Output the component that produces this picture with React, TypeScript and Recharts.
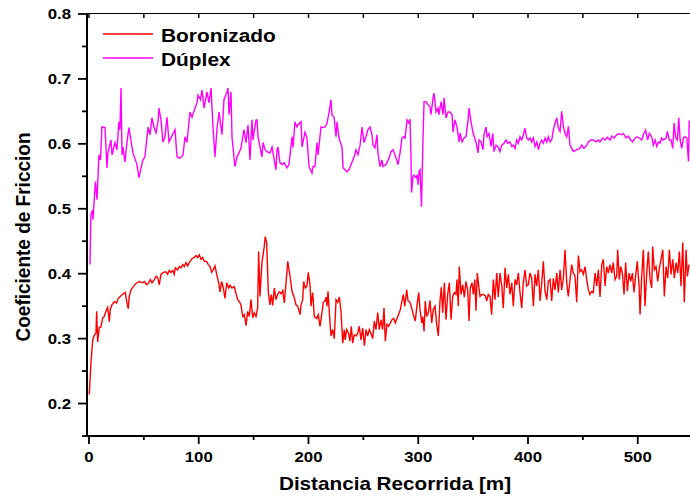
import React from "react";
import { LineChart, Line, XAxis, YAxis, Legend } from "recharts";

// Boronizado: distancia [m] y coeficiente de fricción
const boroDist = [
  0.3, 1.8, 3.4, 4.8, 6.4, 7.0, 7.9, 9.4, 10.9, 12.5, 13.9, 15.5, 17.0, 17.9, 18.5, 19.4, 20.9, 23.1, 25.2, 26.7,
  29.2, 31.3, 33.1, 34.4, 35.8, 36.7, 38.3, 40.4, 42.8, 45.8, 48.9, 50.4, 52.6, 54.4, 55.9, 57.4, 59.5, 61.1, 62.6, 64.1,
  65.6, 67.7, 70.2, 71.7, 73.2, 74.7, 76.3, 77.7, 78.6, 80.8, 82.3, 83.8, 85.4, 86.8, 88.4, 89.9, 92.0, 93.9, 95.9, 97.5,
  99.0, 100.5, 102.1, 103.6, 105.1, 107.2, 108.7, 110.3, 111.8, 113.3, 114.8, 116.4, 118.2, 119.4, 120.9, 122.4, 123.9, 125.5, 127.3, 128.5,
  130.3, 132.4, 134.0, 135.5, 137.0, 138.5, 140.1, 141.5, 143.1, 144.6, 146.1, 147.6, 149.2, 150.6, 152.2, 153.7, 154.6, 155.8, 157.6, 159.7,
  160.6, 161.9, 163.4, 164.9, 166.1, 167.4, 168.8, 170.4, 171.9, 173.4, 175.0, 176.5, 178.0, 179.5, 181.1, 183.2, 185.0, 187.1, 188.6, 190.2,
  192.3, 193.2, 194.7, 195.6, 197.1, 198.6, 199.8, 201.4, 202.3, 203.8, 205.3, 207.5, 208.9, 210.5, 212.3, 213.5, 215.0, 216.0, 216.9, 217.8,
  219.0, 220.5, 222.1, 223.5, 225.1, 226.6, 228.1, 229.6, 231.2, 232.6, 233.5, 234.8, 236.6, 237.8, 239.0, 240.3, 241.7, 243.3, 244.8, 246.3,
  247.8, 249.4, 250.9, 252.4, 253.9, 255.4, 257.0, 258.5, 260.0, 261.5, 263.1, 264.5, 266.1, 267.6, 268.8, 270.0, 271.5, 273.1, 274.5, 276.1,
  277.6, 279.1, 280.6, 282.7, 283.7, 285.2, 286.4, 287.7, 289.5, 290.7, 292.5, 294.3, 295.5, 297.3, 298.9, 300.4, 301.6, 303.2, 304.1, 305.3,
  306.4, 307.7, 309.2, 310.7, 312.3, 313.7, 315.3, 316.8, 318.3, 319.8, 321.0, 322.3, 323.8, 325.3, 326.8, 328.3, 329.9, 331.4, 332.9, 334.4,
  335.3, 336.5, 337.4, 339.0, 340.5, 342.0, 343.5, 345.1, 346.3, 347.4, 349.0, 350.2, 351.5, 352.6, 353.8, 355.1, 356.3, 357.8, 359.3, 361.1,
  362.4, 363.8, 365.4, 366.9, 368.4, 369.9, 371.5, 372.9, 374.5, 376.1, 377.5, 379.1, 380.6, 382.1, 383.6, 385.2, 386.6, 388.2, 389.7, 391.2,
  392.7, 394.3, 395.7, 397.3, 398.8, 400.3, 401.8, 403.4, 404.9, 406.4, 407.9, 409.4, 411.0, 412.5, 414.0, 415.5, 417.1, 418.5, 420.1, 421.6,
  423.1, 424.6, 426.2, 427.6, 429.2, 430.7, 432.2, 433.7, 435.3, 436.7, 438.3, 439.8, 441.3, 442.8, 444.4, 445.9, 447.4, 448.9, 450.4, 452.0,
  453.5, 455.0, 456.5, 458.1, 459.5, 461.1, 462.6, 464.1, 465.6, 467.2, 468.6, 470.2, 471.7, 473.2, 474.7, 476.3, 477.7, 479.3, 480.8, 481.7,
  483.2, 484.5, 486.0, 487.5, 489.0, 490.5, 492.1, 493.6, 495.1, 496.6, 498.2, 499.6, 501.2, 502.1, 503.6, 505.1, 506.6, 508.2, 509.6, 511.2,
  512.7, 513.6, 515.1, 516.7, 518.2, 519.7, 521.2, 522.8, 524.2, 525.8, 527.3, 528.8, 530.3, 531.9, 533.3, 534.9, 536.4, 537.9, 539.4, 541.0,
  542.4, 544.0, 545.2, 546.7,
];
const boroCoef = [
  0.214, 0.263, 0.298, 0.305, 0.309, 0.342, 0.295, 0.317, 0.318, 0.332, 0.334, 0.342, 0.348, 0.337, 0.326, 0.345, 0.352, 0.357, 0.355, 0.362,
  0.366, 0.369, 0.371, 0.357, 0.346, 0.365, 0.375, 0.38, 0.385, 0.388, 0.386, 0.388, 0.383, 0.386, 0.391, 0.386, 0.391, 0.396, 0.394, 0.383,
  0.399, 0.402, 0.403, 0.399, 0.405, 0.402, 0.405, 0.399, 0.409, 0.406, 0.411, 0.409, 0.414, 0.411, 0.417, 0.412, 0.419, 0.423, 0.425, 0.428,
  0.425, 0.429, 0.422, 0.425, 0.419, 0.419, 0.414, 0.411, 0.402, 0.406, 0.412, 0.399, 0.386, 0.372, 0.388, 0.378, 0.362, 0.386, 0.378, 0.382,
  0.378, 0.38, 0.369, 0.36, 0.357, 0.352, 0.334, 0.337, 0.32, 0.342, 0.334, 0.36, 0.332, 0.34, 0.334, 0.348, 0.434, 0.365, 0.417, 0.442,
  0.457, 0.448, 0.372, 0.352, 0.368, 0.351, 0.378, 0.36, 0.368, 0.372, 0.369, 0.374, 0.355, 0.385, 0.419, 0.396, 0.373, 0.363, 0.352, 0.35,
  0.337, 0.352, 0.36, 0.388, 0.378, 0.381, 0.402, 0.383, 0.35, 0.371, 0.334, 0.331, 0.337, 0.319, 0.34, 0.356, 0.358, 0.364, 0.35, 0.373,
  0.34, 0.304, 0.314, 0.3, 0.36, 0.356, 0.364, 0.343, 0.293, 0.314, 0.298, 0.314, 0.308, 0.296, 0.319, 0.293, 0.306, 0.304, 0.308, 0.319,
  0.298, 0.316, 0.289, 0.314, 0.304, 0.314, 0.308, 0.3, 0.327, 0.314, 0.34, 0.314, 0.329, 0.314, 0.347, 0.296, 0.322, 0.319, 0.324, 0.329,
  0.331, 0.324, 0.331, 0.34, 0.345, 0.358, 0.368, 0.35, 0.375, 0.358, 0.356, 0.345, 0.337, 0.327, 0.352, 0.371, 0.345, 0.324, 0.334, 0.311,
  0.358, 0.334, 0.34, 0.359, 0.324, 0.345, 0.35, 0.322, 0.304, 0.358, 0.379, 0.34, 0.386, 0.329, 0.368, 0.386, 0.329, 0.365, 0.371, 0.368,
  0.391, 0.35, 0.411, 0.368, 0.383, 0.364, 0.388, 0.373, 0.327, 0.378, 0.386, 0.368, 0.391, 0.343, 0.401, 0.381, 0.365, 0.368, 0.368, 0.366,
  0.358, 0.368, 0.365, 0.337, 0.391, 0.36, 0.401, 0.364, 0.401, 0.381, 0.347, 0.409, 0.378, 0.399, 0.368, 0.386, 0.35, 0.391, 0.383, 0.401,
  0.371, 0.347, 0.386, 0.406, 0.381, 0.383, 0.401, 0.393, 0.35, 0.399, 0.381, 0.406, 0.358, 0.386, 0.419, 0.373, 0.36, 0.388, 0.391, 0.358,
  0.393, 0.375, 0.401, 0.371, 0.406, 0.375, 0.393, 0.437, 0.386, 0.365, 0.391, 0.414, 0.401, 0.396, 0.356, 0.428, 0.403, 0.406, 0.399, 0.411,
  0.391, 0.375, 0.368, 0.373, 0.371, 0.401, 0.381, 0.406, 0.364, 0.414, 0.422, 0.381, 0.411, 0.401, 0.414, 0.401, 0.417, 0.391, 0.396, 0.437,
  0.391, 0.411, 0.401, 0.368, 0.417, 0.373, 0.401, 0.388, 0.401, 0.371, 0.399, 0.419, 0.381, 0.337, 0.396, 0.437, 0.35, 0.401, 0.434, 0.391,
  0.378, 0.442, 0.406, 0.411, 0.388, 0.409, 0.422, 0.437, 0.365, 0.411, 0.393, 0.437, 0.399, 0.422, 0.393, 0.417, 0.401, 0.434, 0.381, 0.448,
  0.356, 0.437, 0.396, 0.414,
];

// Dúplex: distancia [m] y coeficiente de fricción
const duplexDist = [
  0.9, 1.8, 3.2, 3.6, 5.9, 7.3, 9.1, 10.5, 11.8, 14.6, 16.4, 17.3, 20.0, 21.0, 23.7, 25.5, 27.3, 28.2, 29.2, 30.1,
  31.0, 32.8, 34.6, 36.4, 39.2, 40.1, 43.7, 45.6, 47.4, 49.2, 51.0, 53.8, 55.6, 57.4, 59.2, 61.1, 62.9, 63.8, 65.6, 67.4,
  69.3, 71.1, 72.9, 74.7, 78.4, 80.2, 82.9, 85.7, 87.5, 89.3, 92.0, 93.9, 96.6, 98.4, 99.3, 101.6, 103.0, 104.8, 107.5, 109.3,
  111.2, 113.0, 114.8, 116.6, 118.5, 121.2, 123.0, 125.8, 126.7, 127.6, 129.4, 130.3, 133.0, 134.9, 136.7, 138.5, 141.2, 143.1, 144.9, 146.7,
  148.5, 149.4, 152.2, 153.1, 154.0, 157.6, 158.6, 160.4, 162.2, 164.9, 166.8, 167.7, 170.4, 171.3, 172.2, 174.0, 175.9, 177.7, 180.4, 182.2,
  185.0, 185.9, 187.7, 189.5, 190.4, 193.2, 194.1, 196.8, 198.6, 200.5, 203.2, 204.1, 205.9, 207.8, 208.7, 211.4, 213.2, 215.1, 216.9, 218.7,
  220.5, 221.4, 223.3, 225.1, 226.0, 227.8, 230.5, 231.5, 235.1, 236.9, 239.7, 241.5, 243.3, 245.1, 247.0, 248.8, 250.6, 252.4, 254.2, 256.1,
  257.9, 258.8, 260.6, 262.4, 263.3, 265.2, 267.0, 267.9, 270.6, 273.4, 275.2, 277.0, 279.8, 281.6, 283.4, 285.2, 287.0, 288.0, 289.8, 291.6,
  292.5, 293.4, 293.9, 295.2, 296.2, 298.0, 298.9, 299.8, 300.7, 301.6, 303.0, 304.3, 305.3, 307.1, 308.9, 310.7, 311.6, 313.5, 314.4, 316.2,
  318.0, 318.9, 320.8, 322.6, 323.5, 325.3, 327.1, 329.0, 330.8, 331.7, 333.5, 335.4, 337.2, 338.1, 339.9, 341.7, 343.5, 345.4, 346.3, 348.1,
  349.9, 352.7, 354.5, 355.4, 357.2, 359.0, 359.9, 361.8, 362.7, 364.5, 366.3, 367.9, 369.0, 370.9, 372.4, 374.5, 376.1, 378.2, 380.0, 381.5,
  383.6, 385.2, 386.7, 388.2, 389.7, 391.2, 392.7, 394.3, 395.8, 397.3, 398.8, 400.3, 401.9, 403.4, 404.9, 406.4, 408.0, 409.5, 411.0, 412.5,
  414.0, 415.6, 417.1, 418.6, 420.1, 421.6, 423.1, 424.6, 426.2, 427.7, 429.2, 430.7, 432.2, 433.8, 435.3, 436.8, 438.3, 439.8, 441.3, 444.4,
  447.4, 448.9, 451.0, 453.5, 455.0, 457.2, 459.5, 462.0, 464.1, 465.6, 468.0, 470.2, 472.3, 474.8, 476.3, 478.4, 480.8, 483.2, 485.4, 486.9,
  489.3, 491.4, 493.6, 495.4, 497.5, 499.6, 501.4, 503.6, 505.1, 507.2, 509.0, 510.6, 512.7, 514.2, 515.8, 517.3, 518.8, 520.3, 521.8, 523.3,
  525.8, 527.0, 528.8, 530.3, 531.9, 533.1, 534.6, 536.1, 537.4, 538.6, 540.1, 541.6, 543.1, 544.7, 546.2, 546.9,
];
const duplexCoef = [
  0.414, 0.491, 0.498, 0.483, 0.542, 0.514, 0.583, 0.575, 0.626, 0.625, 0.563, 0.586, 0.606, 0.583, 0.602, 0.591, 0.634, 0.622, 0.686, 0.583,
  0.595, 0.572, 0.602, 0.625, 0.595, 0.586, 0.568, 0.548, 0.563, 0.575, 0.58, 0.626, 0.614, 0.64, 0.626, 0.617, 0.634, 0.655, 0.637, 0.603,
  0.611, 0.641, 0.603, 0.609, 0.622, 0.58, 0.578, 0.583, 0.611, 0.602, 0.649, 0.641, 0.655, 0.663, 0.675, 0.668, 0.683, 0.655, 0.68, 0.663,
  0.686, 0.626, 0.58, 0.622, 0.649, 0.614, 0.668, 0.68, 0.686, 0.645, 0.68, 0.611, 0.565, 0.58, 0.586, 0.594, 0.622, 0.602, 0.629, 0.575,
  0.637, 0.606, 0.637, 0.637, 0.611, 0.58, 0.602, 0.591, 0.588, 0.586, 0.595, 0.586, 0.56, 0.591, 0.595, 0.571, 0.568, 0.571, 0.563, 0.568,
  0.611, 0.594, 0.634, 0.626, 0.629, 0.634, 0.595, 0.618, 0.609, 0.565, 0.555, 0.565, 0.565, 0.602, 0.583, 0.626, 0.625, 0.626, 0.632, 0.648,
  0.668, 0.645, 0.641, 0.611, 0.634, 0.609, 0.595, 0.563, 0.557, 0.56, 0.572, 0.58, 0.591, 0.583, 0.598, 0.626, 0.602, 0.611, 0.622, 0.626,
  0.614, 0.598, 0.594, 0.614, 0.586, 0.565, 0.575, 0.565, 0.568, 0.578, 0.588, 0.591, 0.578, 0.568, 0.586, 0.609, 0.611, 0.609, 0.637, 0.632,
  0.638, 0.58, 0.525, 0.549, 0.552, 0.548, 0.552, 0.537, 0.557, 0.56, 0.503, 0.606, 0.665, 0.665, 0.66, 0.657, 0.645, 0.671, 0.678, 0.649,
  0.655, 0.645, 0.665, 0.645, 0.671, 0.64, 0.649, 0.649, 0.645, 0.618, 0.637, 0.625, 0.603, 0.617, 0.603, 0.609, 0.611, 0.637, 0.655, 0.634,
  0.617, 0.602, 0.586, 0.606, 0.603, 0.591, 0.614, 0.626, 0.611, 0.616, 0.596, 0.616, 0.588, 0.598, 0.596, 0.588, 0.598, 0.601, 0.606, 0.601,
  0.603, 0.596, 0.598, 0.593, 0.606, 0.601, 0.611, 0.606, 0.614, 0.624, 0.609, 0.606, 0.609, 0.603, 0.609, 0.596, 0.603, 0.591, 0.601, 0.606,
  0.601, 0.609, 0.603, 0.611, 0.603, 0.606, 0.621, 0.632, 0.64, 0.624, 0.619, 0.65, 0.627, 0.616, 0.611, 0.627, 0.598, 0.593, 0.588, 0.591,
  0.593, 0.598, 0.593, 0.598, 0.603, 0.606, 0.606, 0.603, 0.606, 0.603, 0.609, 0.606, 0.61, 0.606, 0.612, 0.609, 0.614, 0.616, 0.614, 0.616,
  0.609, 0.612, 0.606, 0.603, 0.609, 0.611, 0.609, 0.606, 0.614, 0.621, 0.606, 0.616, 0.611, 0.598, 0.606, 0.596, 0.603, 0.601, 0.609, 0.606,
  0.609, 0.619, 0.606, 0.606, 0.593, 0.632, 0.609, 0.606, 0.64, 0.606, 0.593, 0.609, 0.611, 0.609, 0.573, 0.636,
];

const xTicks = [0, 50, 100, 150, 200, 250, 300, 350, 400, 450, 500];
const yTicks = [0.15, 0.2, 0.25, 0.3, 0.35, 0.4, 0.45, 0.5, 0.55, 0.6, 0.65, 0.7, 0.75, 0.8];
const X_DOMAIN = [-1.8, 547.6];
const Y_DOMAIN = [0.15, 0.8];

const boroData = boroDist.map((d, i) => ({ dist: d, coef: boroCoef[i] }));
const duplexData = duplexDist.map((d, i) => ({ dist: d, coef: duplexCoef[i] }));

const W = 690;
const H = 497;
const PLOT_LEFT = 87;
const PLOT_TOP = 14;
const PLOT_BOTTOM = 436;
const FONT = '"Liberation Sans", Arial, Helvetica, sans-serif';

// bottom ticks point outward; each also gets a short inward mark on the top frame
const XTick = (props: any) => {
  const { x, payload } = props;
  const v = Number(payload.value);
  const major = Math.round(v) % 100 === 0;
  return (
    <g>
      <line x1={x} x2={x} y1={PLOT_BOTTOM} y2={PLOT_BOTTOM + (major ? 8 : 4)} stroke="#000" strokeWidth={1.8} />
      <line x1={x} x2={x} y1={PLOT_TOP} y2={PLOT_TOP + 4} stroke="#000" strokeWidth={1.5} />
      {major && (
        <text
          transform={`translate(${x},462) scale(1.12,1)`}
          textAnchor="middle"
          fontFamily={FONT}
          fontWeight="bold"
          fontSize={15}
          fill="#000"
        >
          {v}
        </text>
      )}
    </g>
  );
};

const YTick = (props: any) => {
  const { y, payload } = props;
  const v = Number(payload.value);
  const major = Math.round(v * 100) % 10 === 0;
  return (
    <g>
      <line x1={PLOT_LEFT - (major ? 9 : 5)} x2={PLOT_LEFT} y1={y} y2={y} stroke="#000" strokeWidth={1.8} />
      {major && (
        <text
          transform={`translate(${PLOT_LEFT - 16},${y + 5}) scale(1.12,1)`}
          textAnchor="end"
          fontFamily={FONT}
          fontWeight="bold"
          fontSize={15}
          fill="#000"
        >
          {v.toFixed(1)}
        </text>
      )}
    </g>
  );
};

const XTitle = (props: any) => (
  <text
    transform="translate(395,490) scale(1.15,1)"
    textAnchor="middle"
    fontFamily={FONT}
    fontWeight="bold"
    fontSize={18}
    fill="#000"
  >
    {props.value}
  </text>
);

const YTitle = (props: any) => (
  <text
    transform="translate(30,237) rotate(-90) scale(1,1.1)"
    textAnchor="middle"
    fontFamily={FONT}
    fontWeight="bold"
    fontSize={19}
    fill="#000"
  >
    {props.value}
  </text>
);

const LegendBox = (props: any) => {
  const items = props.payload || [];
  return (
    <svg width={200} height={56}>
      {items.map((item: any, i: number) => (
        <g key={item.value}>
          <line x1={7} x2={57} y1={14 + i * 24} y2={14 + i * 24} stroke={item.color} strokeWidth={1.4} />
          <text
            transform={`translate(65,${21.5 + i * 24}) scale(1.13,1)`}
            fontFamily={FONT}
            fontWeight="bold"
            fontSize={18.5}
            fill="#000"
          >
            {item.value}
          </text>
        </g>
      ))}
    </svg>
  );
};

export default function App() {
  return (
    <div style={{ position: "absolute", left: 0, top: 0, width: W, height: H, background: "#fff" }}>
      <LineChart width={W} height={H} margin={{ top: PLOT_TOP, right: 0, bottom: 0, left: 0 }}>
        <XAxis
          type="number"
          dataKey="dist"
          domain={X_DOMAIN}
          allowDataOverflow
          ticks={xTicks}
          interval={0}
          height={61}
          axisLine={{ stroke: "#000", strokeWidth: 2 }}
          tickLine={false}
          tick={XTick}
          label={{ value: "Distancia Recorrida [m]", content: XTitle }}
        />
        <YAxis
          type="number"
          domain={Y_DOMAIN}
          allowDataOverflow
          ticks={yTicks}
          interval={0}
          width={PLOT_LEFT}
          axisLine={{ stroke: "#000", strokeWidth: 2 }}
          tickLine={false}
          tick={YTick}
          label={{ value: "Coeficiente de Friccion", content: YTitle }}
        />
        <Legend
          layout="vertical"
          align="center"
          verticalAlign="middle"
          content={LegendBox}
          wrapperStyle={{ left: 96, top: 20, width: 200, height: 56 }}
        />
        <Line
          data={boroData}
          dataKey="coef"
          name="Boronizado"
          type="linear"
          stroke="#ff0000"
          strokeWidth={1.4}
          dot={false}
          isAnimationActive={false}
        />
        <Line
          data={duplexData}
          dataKey="coef"
          name="Dúplex"
          type="linear"
          stroke="#ff00ff"
          strokeWidth={1.4}
          dot={false}
          isAnimationActive={false}
        />
      </LineChart>
      {/* upper frame of the plot box */}
      <div
        style={{
          position: "absolute",
          left: PLOT_LEFT,
          top: PLOT_TOP - 1,
          width: W - PLOT_LEFT,
          height: 0,
          borderTop: "1.5px solid #000",
          pointerEvents: "none",
        }}
      />
    </div>
  );
}
